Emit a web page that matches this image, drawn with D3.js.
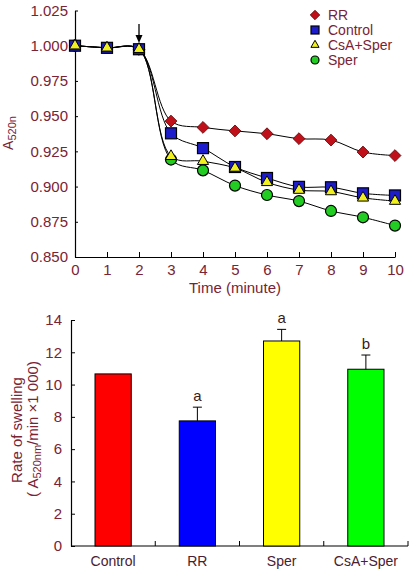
<!DOCTYPE html>
<html><head><meta charset="utf-8">
<script src="https://cdn.jsdelivr.net/npm/d3@7"></script>
<style>
body{margin:0;background:#fff;}
svg{display:block;font-family:"Liberation Sans",Arial,sans-serif;}
</style></head>
<body><svg id="c" width="417" height="572"></svg>
<script>
// ---------- data ----------
const times = [0,1,2,3,4,5,6,7,8,9,10];
const seriesNames = ["RR","Control","CsA+Sper","Sper"];
const rrValues      = [1.000,0.9985,0.9975,0.9465,0.942,0.9395,0.9375,0.934,0.933,0.9245,0.922];
const controlValues = [1.000,0.9985,0.9975,0.9378,0.9273,0.9139,0.9061,0.8998,0.8995,0.8952,0.8937];
const csaSperValues = [1.000,0.9985,0.9975,0.9215,0.918,0.9132,0.903,0.8975,0.8965,0.892,0.8897];
const sperValues    = [1.000,0.9985,0.9975,0.9192,0.9115,0.9007,0.894,0.8897,0.8827,0.8782,0.8723];
const yTicksTop = [0.850,0.875,0.900,0.925,0.950,0.975,1.000,1.025];
const xTicksTop = [0,1,2,3,4,5,6,7,8,9,10];

const barCategories = ["Control","RR","Sper","CsA+Sper"];
const barValues = [10.66,7.75,12.7,10.95];
const barErrors = [0,0.85,0.72,0.88];
const barLetters = ["","a","a","b"];
const yTicksBottom = [0,2,4,6,8,10,12,14];

// ---------- styles ----------
const textCol = "#7a2333";
const svg = d3.select("#c");

// ---------- top chart ----------
const xT = d3.scaleLinear().domain([0,10]).range([75,395]);
const yT = d3.scaleLinear().domain([0.850,1.025]).range([257,10.5]);

const gT = svg.append("g");
const yAxT = d3.axisLeft(yT).tickValues(yTicksTop).tickFormat(d3.format(".3f")).tickSizeInner(-3).tickSizeOuter(0);
const yg = gT.append("g").attr("transform","translate(75,0)").call(yAxT);
const xAxT = d3.axisBottom(xT).tickValues(xTicksTop).tickFormat(d3.format("d")).tickSizeInner(-5).tickSizeOuter(0);
const xg = gT.append("g").attr("transform","translate(0,257)").call(xAxT);
[yg,xg].forEach(g=>{
  g.select(".domain").attr("stroke","#000").attr("stroke-width",1.2);
  g.selectAll(".tick line").attr("stroke","#000");
  g.selectAll(".tick text").attr("fill",textCol).attr("font-size",15).attr("font-family","Liberation Sans, Arial, sans-serif");
});
yg.selectAll(".tick text").attr("x",-7);
xg.selectAll(".tick text").attr("y",7);

gT.append("text").attr("x",235).attr("y",293).attr("text-anchor","middle")
  .attr("fill",textCol).attr("font-size",15).text("Time (minute)");
const yl = gT.append("text").attr("transform","translate(13,133) rotate(-90)").attr("text-anchor","middle")
  .attr("fill",textCol).attr("font-size",14);
yl.append("tspan").text("A");
yl.append("tspan").attr("font-size",11).attr("dy",3).text("520n");

const seriesData = {
  "RR":rrValues, "Control":controlValues, "CsA+Sper":csaSperValues, "Sper":sperValues
};
const line = d3.line().x((d,i)=>xT(times[i])).y(d=>yT(d)).curve(d3.curveCatmullRom.alpha(0.5));
seriesNames.forEach(n=>{
  gT.append("path").attr("d",line(seriesData[n])).attr("fill","none").attr("stroke","#000").attr("stroke-width",1);
});

function marker(g,name,x,y,s){
  if(name==="RR"){
    g.append("path").attr("d",d3.symbol(d3.symbolDiamond2, s*s*0.9)()).attr("transform",`translate(${x},${y})`)
     .attr("fill","#c0101a").attr("stroke","#5a0000").attr("stroke-width",0.8);
  } else if(name==="Control"){
    g.append("rect").attr("x",x-s/2).attr("y",y-s/2).attr("width",s).attr("height",s)
     .attr("fill","#1c1ccc").attr("stroke","#000").attr("stroke-width",1.2);
  } else if(name==="CsA+Sper"){
    g.append("path").attr("d",d3.symbol(d3.symbolTriangle, s*s*0.45)()).attr("transform",`translate(${x},${y})`)
     .attr("fill","#f0f020").attr("stroke","#000").attr("stroke-width",1);
  } else {
    g.append("circle").attr("cx",x).attr("cy",y).attr("r",s/2)
     .attr("fill","#22cc22").attr("stroke","#000").attr("stroke-width",1.2);
  }
}
["Sper","RR","Control","CsA+Sper"].forEach(n=>{
  seriesData[n].forEach((v,i)=>marker(gT,n,xT(times[i]),yT(v),n==="RR"?10:11));
});

// arrow at t=2
gT.append("line").attr("x1",xT(2)).attr("x2",xT(2)).attr("y1",24).attr("y2",36).attr("stroke","#000").attr("stroke-width",1.3);
gT.append("path").attr("d",`M${xT(2)-3.5},35 L${xT(2)+3.5},35 L${xT(2)},43 Z`).attr("fill","#000");

// legend
seriesNames.forEach((n,i)=>{
  const y = 15 + i*15;
  marker(gT,n,315,y,8);
  gT.append("text").attr("x",328).attr("y",y).attr("dy","0.35em").attr("fill",textCol).attr("font-size",14).text(n);
});

// ---------- bottom chart ----------
const xB = d3.scaleBand().domain(barCategories).range([71,408]).paddingInner(0.57).paddingOuter(0.285);
const yB = d3.scaleLinear().domain([0,14]).range([546,320]);
const gB = svg.append("g");
const yAxB = d3.axisLeft(yB).tickValues(yTicksBottom).tickSizeInner(-4).tickSizeOuter(0);
const yb = gB.append("g").attr("transform","translate(71,0)").call(yAxB);
yb.select(".domain").attr("stroke","#000").attr("stroke-width",1.2);
yb.selectAll(".tick line").attr("stroke","#000");
yb.selectAll(".tick text").attr("fill",textCol).attr("font-size",15).attr("x",-9).attr("font-family","Liberation Sans, Arial, sans-serif");

gB.append("line").attr("x1",71).attr("x2",408).attr("y1",546).attr("y2",546).attr("stroke","#000").attr("stroke-width",1.2);
const sepScale = d3.scaleLinear().domain([0,4]).range([71,408]);
[1,2,3,4].forEach(k=>{
  gB.append("line").attr("x1",sepScale(k)).attr("x2",sepScale(k)).attr("y1",546).attr("y2",541).attr("stroke","#000");
});

const barColors = ["#ff0000","#0000ff","#ffff00","#00ff00"];
barCategories.forEach((c,i)=>{
  const x = xB(c), w = xB.bandwidth(), cx = x + w/2;
  gB.append("rect").attr("x",x).attr("y",yB(barValues[i])).attr("width",w).attr("height",yB(0)-yB(barValues[i]))
    .attr("fill",barColors[i]).attr("stroke","#000").attr("stroke-width",1);
  if(barErrors[i]>0){
    const top = yB(barValues[i]+barErrors[i]);
    gB.append("line").attr("x1",cx).attr("x2",cx).attr("y1",yB(barValues[i])).attr("y2",top).attr("stroke","#000").attr("stroke-width",1);
    gB.append("line").attr("x1",cx-4.5).attr("x2",cx+4.5).attr("y1",top).attr("y2",top).attr("stroke","#000").attr("stroke-width",1);
    gB.append("text").attr("x",cx).attr("y",top-6).attr("text-anchor","middle").attr("fill","#3a1a1a")
      .attr("font-size",15).text(barLetters[i]);
  }
  gB.append("text").attr("x",cx).attr("y",566).attr("text-anchor","middle").attr("fill","#4a2030")
    .attr("font-size",14).text(c);
});

gB.append("text").attr("transform","translate(22,430) rotate(-90)").attr("text-anchor","middle")
  .attr("fill",textCol).attr("font-size",15).text("Rate of swelling");
const yl2 = gB.append("text").attr("transform","translate(38,429) rotate(-90)").attr("text-anchor","middle")
  .attr("fill",textCol).attr("font-size",15);
yl2.append("tspan").text("( A");
yl2.append("tspan").attr("font-size",11).attr("dy",3).text("520nm");
yl2.append("tspan").attr("dy",-3).text("/min \u00d71 000)");
</script></body></html>
